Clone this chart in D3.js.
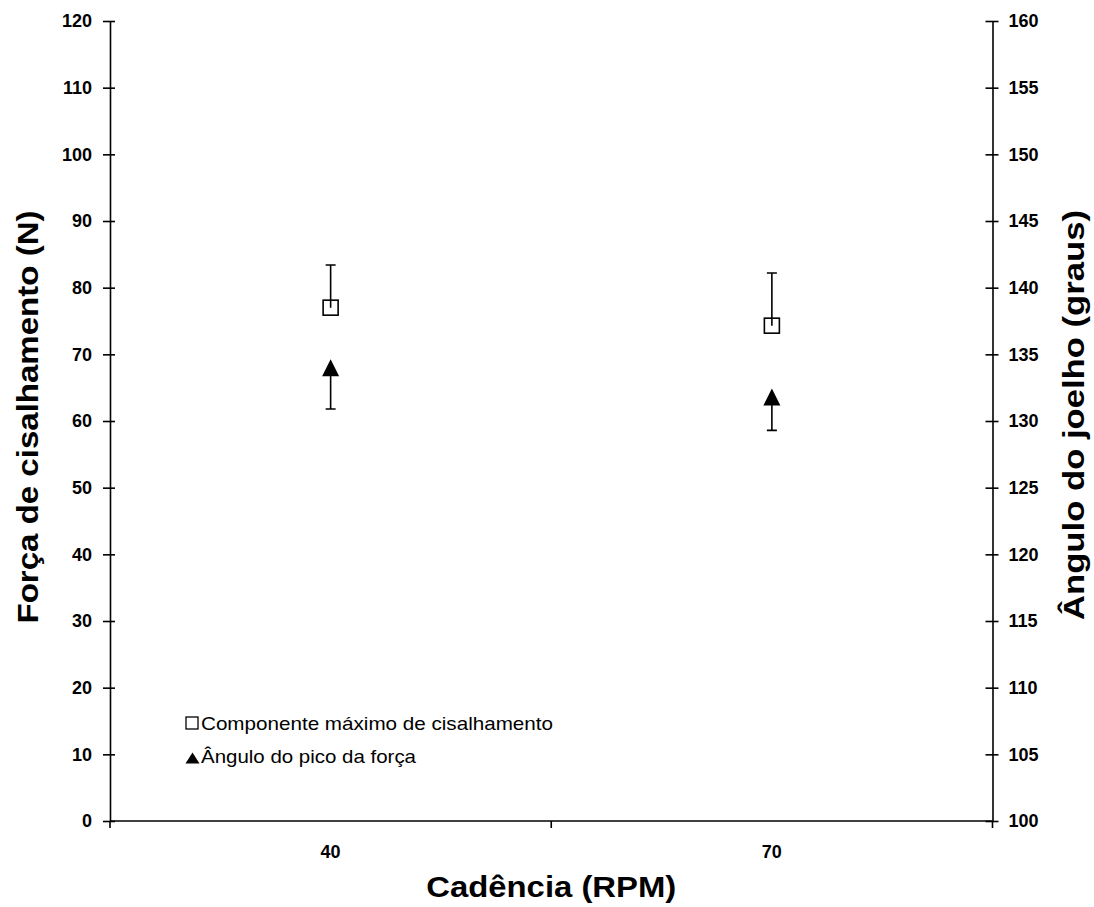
<!DOCTYPE html>
<html>
<head>
<meta charset="utf-8">
<script src="https://cdn.jsdelivr.net/npm/d3@7"></script>
<style>
  html, body { margin: 0; padding: 0; background: #fff; }
  svg { display: block; font-family: "Liberation Sans", Arial, sans-serif; }
</style>
</head>
<body>
<svg id="chart" width="1094" height="907"></svg>
<script>
// Cadence groups
const categories = ["40", "70"];
// Peak shear component (N) and its upper standard deviation
const shearValues = [77.0, 74.3];
const shearErrors = [6.4, 7.9];
// Knee angle at peak force (degrees) and its lower standard deviation
const angleValues = [134.0, 131.8];
const angleErrors = [3.1, 2.5];
// Axis tick values
const leftTicks = [0, 10, 20, 30, 40, 50, 60, 70, 80, 90, 100, 110, 120];
const rightTicks = [100, 105, 110, 115, 120, 125, 130, 135, 140, 145, 150, 155, 160];
const legendLabels = ["Componente máximo de cisalhamento", "Ângulo do pico da força"];

const svg = d3.select("#chart");
const plot = { left: 110, right: 992.5, top: 21, bottom: 821 };

const x = d3.scaleBand().domain(categories).range([plot.left, plot.right]).padding(0);
const yL = d3.scaleLinear().domain([0, 120]).range([plot.bottom, plot.top]);
const yR = d3.scaleLinear().domain([100, 160]).range([plot.bottom, plot.top]);
const cx = c => x(c) + x.bandwidth() / 2;

const ink = "#000";
const lw = 1.6;
const tickFont = 18;

// Left axis
const gL = svg.append("g")
  .attr("transform", `translate(${plot.left},0)`)
  .call(d3.axisLeft(yL).tickValues(leftTicks).tickSize(7).tickPadding(11).tickSizeOuter(0));
gL.select(".domain").attr("stroke", ink).attr("stroke-width", lw);
gL.selectAll(".tick line").attr("x1", 5).attr("x2", -7).attr("stroke", ink).attr("stroke-width", lw);
gL.selectAll(".tick text").attr("font-size", tickFont).attr("font-weight", "bold").attr("fill", ink)
  .attr("font-family", "'Liberation Sans', Arial, sans-serif");

// Right axis
const gR = svg.append("g")
  .attr("transform", `translate(${plot.right},0)`)
  .call(d3.axisRight(yR).tickValues(rightTicks).tickSize(6).tickPadding(10).tickSizeOuter(0));
gR.select(".domain").attr("stroke", ink).attr("stroke-width", lw);
gR.selectAll(".tick line").attr("x1", -7).attr("x2", 6).attr("stroke", ink).attr("stroke-width", lw);
gR.selectAll(".tick text").attr("font-size", tickFont).attr("font-weight", "bold").attr("fill", ink)
  .attr("font-family", "'Liberation Sans', Arial, sans-serif");

// Bottom axis: ticks at category boundaries, labels at category centres
const boundaries = categories.map(c => x(c)).concat([x(categories[categories.length - 1]) + x.bandwidth()]);
svg.append("line")
  .attr("x1", plot.left).attr("x2", plot.right)
  .attr("y1", plot.bottom).attr("y2", plot.bottom)
  .attr("stroke", ink).attr("stroke-width", lw);
svg.selectAll(".xtick").data(boundaries).join("line")
  .attr("class", "xtick")
  .attr("x1", d => d).attr("x2", d => d)
  .attr("y1", plot.bottom).attr("y2", plot.bottom + 7)
  .attr("stroke", ink).attr("stroke-width", lw);
svg.selectAll(".xlabel").data(categories).join("text")
  .attr("class", "xlabel")
  .attr("x", d => cx(d)).attr("y", 858)
  .attr("text-anchor", "middle")
  .attr("font-size", tickFont).attr("font-weight", "bold")
  .text(d => d);

// Shear series: upper error bars and open squares
const shear = categories.map((c, i) => ({ c, v: shearValues[i], e: shearErrors[i] }));
const cap = 5;
svg.selectAll(".shearErr").data(shear).join("path")
  .attr("class", "shearErr")
  .attr("d", d => `M${cx(d.c)},${yL(d.v)}V${yL(d.v + d.e)}M${cx(d.c) - cap},${yL(d.v + d.e)}H${cx(d.c) + cap}`)
  .attr("stroke", ink).attr("stroke-width", lw).attr("fill", "none");
const sq = 15;
svg.selectAll(".shearPt").data(shear).join("rect")
  .attr("class", "shearPt")
  .attr("x", d => cx(d.c) - sq / 2).attr("y", d => yL(d.v) - sq / 2)
  .attr("width", sq).attr("height", sq)
  .attr("fill", "none").attr("stroke", ink).attr("stroke-width", lw);

// Angle series: lower error bars and filled triangles
const angle = categories.map((c, i) => ({ c, v: angleValues[i], e: angleErrors[i] }));
svg.selectAll(".angleErr").data(angle).join("path")
  .attr("class", "angleErr")
  .attr("d", d => `M${cx(d.c)},${yR(d.v)}V${yR(d.v - d.e)}M${cx(d.c) - cap},${yR(d.v - d.e)}H${cx(d.c) + cap}`)
  .attr("stroke", ink).attr("stroke-width", lw).attr("fill", "none");
const tw = 17, th = 17;
const tri = (px, py, w, h) => `M${px},${py - h / 2}L${px + w / 2},${py + h / 2}L${px - w / 2},${py + h / 2}Z`;
svg.selectAll(".anglePt").data(angle).join("path")
  .attr("class", "anglePt")
  .attr("d", d => tri(cx(d.c), yR(d.v), tw, th))
  .attr("fill", ink);

// Legend
const lg = svg.append("g");
lg.append("rect").attr("x", 186).attr("y", 717).attr("width", 12).attr("height", 12)
  .attr("fill", "none").attr("stroke", ink).attr("stroke-width", 1.3);
lg.append("path").attr("d", tri(192.5, 758, 14, 11)).attr("fill", ink);
lg.append("text").attr("x", 201).attr("y", 730).attr("font-size", 19)
  .attr("textLength", 352).attr("lengthAdjust", "spacingAndGlyphs").text(legendLabels[0]);
lg.append("text").attr("x", 201).attr("y", 763).attr("font-size", 19)
  .attr("textLength", 215).attr("lengthAdjust", "spacingAndGlyphs").text(legendLabels[1]);

// Axis titles
const midY = (plot.top + plot.bottom) / 2;
svg.append("text")
  .attr("transform", `translate(38,${midY - 4}) rotate(-90)`)
  .attr("text-anchor", "middle").attr("font-size", 30).attr("font-weight", "bold")
  .attr("textLength", 413).attr("lengthAdjust", "spacingAndGlyphs")
  .text("Força de cisalhamento (N)");
svg.append("text")
  .attr("transform", `translate(1084,${midY - 6}) rotate(-90)`)
  .attr("text-anchor", "middle").attr("font-size", 30).attr("font-weight", "bold")
  .attr("textLength", 410).attr("lengthAdjust", "spacingAndGlyphs")
  .text("Ângulo do joelho (graus)");
svg.append("text")
  .attr("x", (plot.left + plot.right) / 2).attr("y", 897)
  .attr("text-anchor", "middle").attr("font-size", 29).attr("font-weight", "bold")
  .attr("textLength", 250).attr("lengthAdjust", "spacingAndGlyphs")
  .text("Cadência (RPM)");
</script>
</body>
</html>
